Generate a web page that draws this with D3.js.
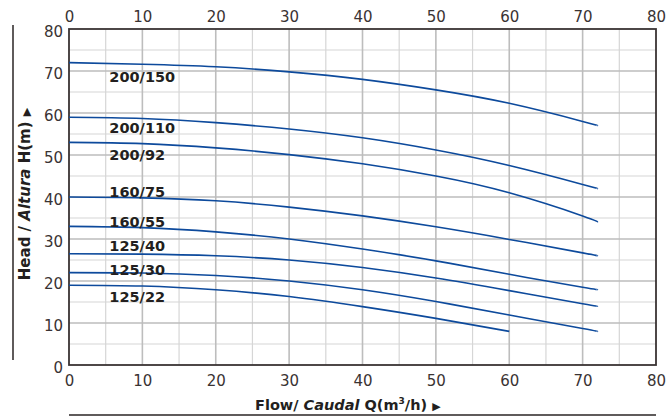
<!DOCTYPE html>
<html>
<head>
<meta charset="utf-8">
<script src="https://d3js.org/d3.v7.min.js"></script>
<style>
  body { margin: 0; background: #fff; }
  svg { display: block; font-family: "DejaVu Sans", Verdana, sans-serif; }
</style>
</head>
<body>
<svg id="chart"></svg>
<script>
var width = 671,
    height = 418;
var margin = {top: 29, right: 15, bottom: 53, left: 69};

// pump models and their head curves
var models = ['200/150', '200/110', '200/92', '160/75', '160/55', '125/40', '125/30', '125/22'];
var flowLong = [0, 10, 20, 30, 40, 50, 60, 70, 72];
var flowShort = [0, 10, 20, 30, 40, 50, 60];
var head200_150 = [72, 71.6, 71.0, 69.8, 68.0, 65.5, 62.3, 58.0, 57.0];
var head200_110 = [59, 58.7, 57.7, 56.2, 54.1, 51.2, 47.5, 43.0, 42.0];
var head200_92  = [53, 52.7, 51.7, 50.1, 47.9, 45.0, 41.0, 35.5, 34.0];
var head160_75  = [40, 39.8, 39.1, 37.6, 35.5, 32.9, 29.9, 26.7, 26.0];
var head160_55  = [33, 32.7, 31.7, 30.0, 27.6, 24.8, 21.6, 18.5, 18.0];
var head125_40  = [26.5, 26.4, 26.0, 25.0, 23.2, 20.7, 17.7, 14.6, 14.0];
var head125_30  = [22, 21.9, 21.3, 20.0, 17.9, 15.1, 11.9, 8.7, 8.0];
var head125_22  = [19, 18.8, 17.9, 16.3, 13.9, 11.1, 8.0];
// where each model name sits (head value of the text baseline)
var labelHead = [67.4, 55.2, 48.8, 40.1, 32.9, 27.1, 21.4, 15.1];
var labelFlow = 5.5;

var xTicks = [0, 10, 20, 30, 40, 50, 60, 70, 80];
var yTicks = [0, 10, 20, 30, 40, 50, 60, 70, 80];

var heads = [head200_150, head200_110, head200_92, head160_75, head160_55, head125_40, head125_30, head125_22];
var flows = [flowLong, flowLong, flowLong, flowLong, flowLong, flowLong, flowLong, flowShort];

var series = models.map(function(m, i){
  return {name: m, labelY: labelHead[i],
          points: flows[i].map(function(q, j){ return [q, heads[i][j]]; })};
});

var svg = d3.select('#chart')
            .attr('width', width)
            .attr('height', height);

var x = d3.scaleLinear().domain([0, 80]).range([margin.left, width - margin.right]);
var y = d3.scaleLinear().domain([0, 80]).range([height - margin.bottom, margin.top]);

// grid, minor every 5 and major every 10
var minor = d3.range(5, 80, 10);
var major = d3.range(10, 80, 10);

var grid = svg.append('g').classed('grid', true);
grid.selectAll('.vminor')
    .data(minor).enter()
    .append('line')
      .attr('x1', d => x(d)).attr('x2', d => x(d))
      .attr('y1', y(0)).attr('y2', y(80))
      .attr('stroke', '#d6d6d6').attr('stroke-width', 1.2);
grid.selectAll('.hminor')
    .data(minor).enter()
    .append('line')
      .attr('x1', x(0)).attr('x2', x(80))
      .attr('y1', d => y(d)).attr('y2', d => y(d))
      .attr('stroke', '#d6d6d6').attr('stroke-width', 1.2);
grid.selectAll('.vmajor')
    .data(major).enter()
    .append('line')
      .attr('x1', d => x(d)).attr('x2', d => x(d))
      .attr('y1', y(0)).attr('y2', y(80))
      .attr('stroke', '#bdbdbd').attr('stroke-width', 1.6);
grid.selectAll('.hmajor')
    .data(major).enter()
    .append('line')
      .attr('x1', x(0)).attr('x2', x(80))
      .attr('y1', d => y(d)).attr('y2', d => y(d))
      .attr('stroke', '#bdbdbd').attr('stroke-width', 1.6);

// frame
svg.append('rect')
    .attr('x', x(0)).attr('y', y(80))
    .attr('width', x(80) - x(0)).attr('height', y(0) - y(80))
    .attr('fill', 'none')
    .attr('stroke', '#3a3333')
    .attr('stroke-width', 1.8);

// axes (ticks hidden, just the labels)
var tickColor = '#3a3333';
var bottomAxis = svg.append('g')
    .attr('transform', 'translate(0,' + y(0) + ')')
    .call(d3.axisBottom(x).tickValues(xTicks).tickSize(0).tickPadding(10));
var topAxis = svg.append('g')
    .attr('transform', 'translate(0,' + y(80) + ')')
    .call(d3.axisTop(x).tickValues(xTicks).tickSize(0).tickPadding(7));
var leftAxis = svg.append('g')
    .attr('transform', 'translate(' + x(0) + ',0)')
    .call(d3.axisLeft(y).tickValues(yTicks).tickSize(0).tickPadding(6));
[bottomAxis, topAxis, leftAxis].forEach(function(a){
  a.select('.domain').remove();
  a.selectAll('text')
    .attr('fill', tickColor)
    .style('font-size', '15px')
    .style('font-family', '"DejaVu Sans", Verdana, sans-serif');
});
leftAxis.selectAll('text').attr('dy', '0.5em');

// curves
var line = d3.line()
    .x(d => x(d[0]))
    .y(d => y(d[1]))
    .curve(d3.curveNatural);

svg.append('g').classed('curves', true)
   .selectAll('path')
   .data(series).enter()
   .append('path')
     .attr('d', d => line(d.points))
     .attr('fill', 'none')
     .attr('stroke', '#0d4a9c')
     .attr('stroke-width', 1.6);

svg.append('g').classed('names', true)
   .selectAll('text')
   .data(series).enter()
   .append('text')
     .attr('x', x(labelFlow))
     .attr('y', d => y(d.labelY))
     .attr('fill', '#231f20')
     .style('font-size', '14.5px')
     .style('font-weight', 'bold')
     .text(d => d.name);

// axis titles
var xTitle = svg.append('text')
    .attr('x', 255)
    .attr('y', 410)
    .attr('fill', '#231f20')
    .style('font-size', '14.5px')
    .style('font-weight', 'bold');
xTitle.append('tspan').text('Flow/ ');
xTitle.append('tspan').style('font-style', 'italic').text('Caudal');
xTitle.append('tspan').text(' Q(m');
xTitle.append('tspan').style('font-size', '9px').attr('dy', -6).text('3');
xTitle.append('tspan').attr('dy', 6).text('/h) ');
xTitle.append('tspan').style('font-size', '11px').text('\u25B6');

var yTitle = svg.append('text')
    .attr('transform', 'translate(30,' + 194 + ') rotate(-90)')
    .attr('text-anchor', 'middle')
    .attr('fill', '#231f20')
    .style('font-size', '15px')
    .style('font-weight', 'bold');
yTitle.append('tspan').text('Head / ');
yTitle.append('tspan').style('font-style', 'italic').text('Altura');
yTitle.append('tspan').text(' H(m) ');
yTitle.append('tspan').style('font-size', '11px').text('\u25B6');

// side rules
svg.append('line')
    .attr('x1', 13).attr('x2', 13)
    .attr('y1', 25).attr('y2', 360)
    .attr('stroke', '#2a2424').attr('stroke-width', 1.5);
svg.append('line')
    .attr('x1', x(0)).attr('x2', x(80))
    .attr('y1', 415).attr('y2', 415)
    .attr('stroke', '#2a2424').attr('stroke-width', 1.5);
</script>
</body>
</html>
